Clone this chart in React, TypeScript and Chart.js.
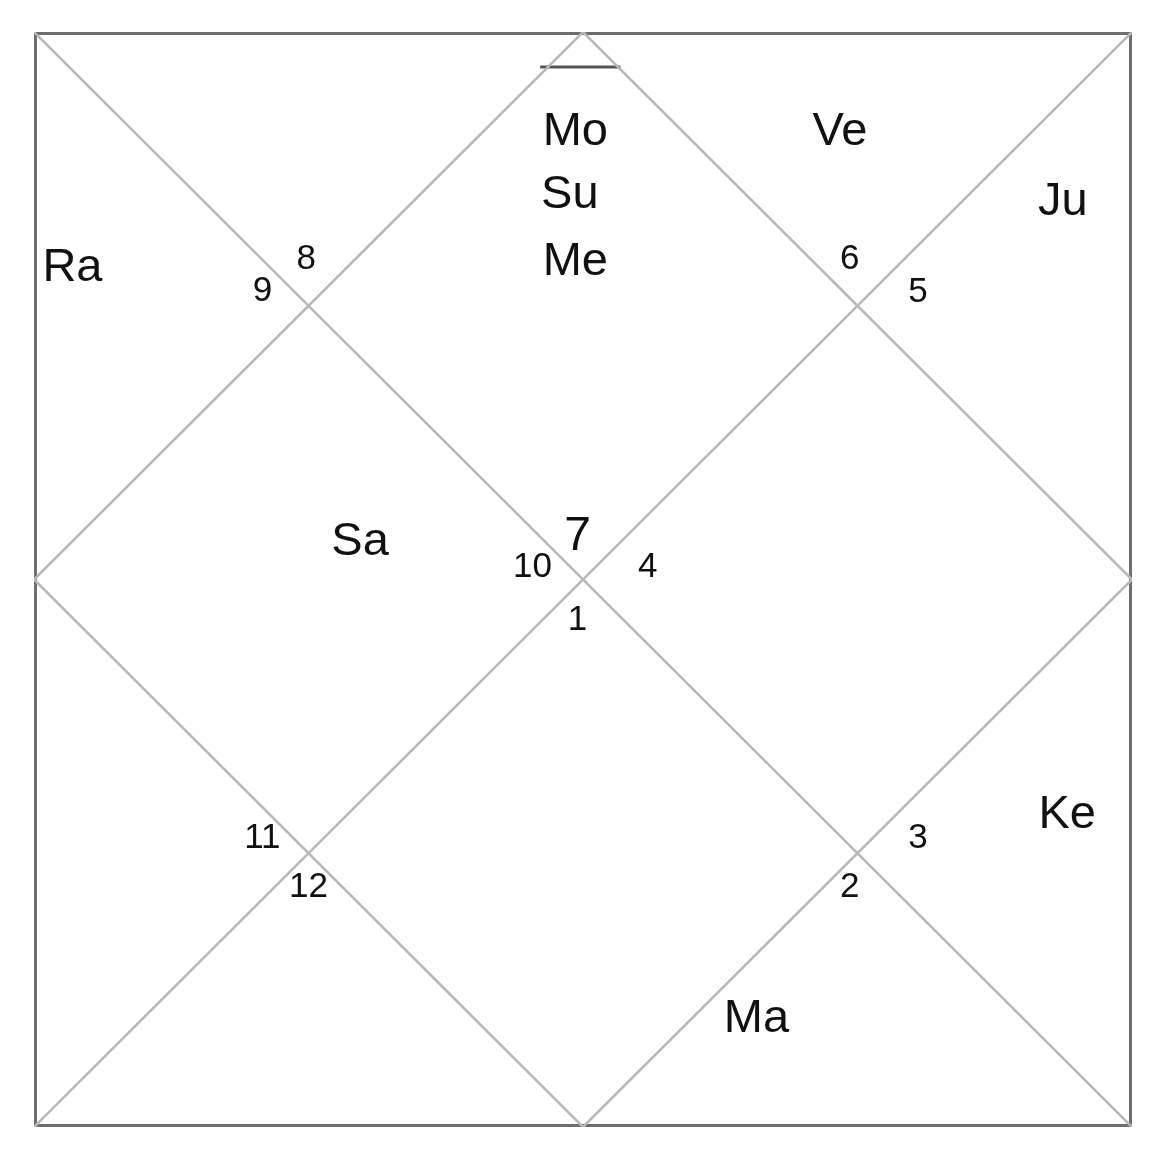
import React, { useEffect, useRef } from "react";
import { Chart, registerables } from "chart.js";
Chart.register(...registerables);

const borderSquare = [{x:0,y:0},{x:100,y:0},{x:100,y:100},{x:0,y:100},{x:0,y:0}];
const diag1 = [{x:0,y:100},{x:100,y:0}];
const diag2 = [{x:0,y:0},{x:100,y:100}];
const diamond = [{x:50,y:100},{x:100,y:50},{x:50,y:0},{x:0,y:50},{x:50,y:100}];
const topMark = [{x:46.1,y:96.8},{x:53.4,y:96.8}];

const planetNames = ["Mo","Su","Me","Ve","Ju","Ra","Sa","Ma","Ke"];
const planetX = [49.3,48.8,49.3,73.4,93.7,3.5,29.7,65.8,94.1];
const planetY = [90.9,85.1,79.0,90.9,84.5,78.4,53.4,9.9,28.5];

const houseNums = ["8","9","6","5","7","10","4","1","11","12","3","2"];
const houseX = [24.8,20.8,74.3,80.5,49.5,45.4,55.9,49.5,20.8,25.0,80.5,74.3];
const houseY = [79.2,76.3,79.2,76.2,53.9,51.1,51.1,46.3,26.4,21.9,26.4,21.9];

const textPlugin = {
  id: "kundliText",
  afterDatasetsDraw(chart: any) {
    const { ctx, scales } = chart;
    ctx.save();
    ctx.fillStyle = "#111";
    ctx.textAlign = "center";
    ctx.textBaseline = "middle";
    ctx.font = "47px 'Liberation Sans', Arial, sans-serif";
    planetNames.forEach((t, i) => {
      ctx.fillText(t, scales.x.getPixelForValue(planetX[i]), scales.y.getPixelForValue(planetY[i]));
    });
    houseNums.forEach((t, i) => {
      ctx.font = t === "7" ? "48px 'Liberation Sans', Arial, sans-serif" : "35px 'Liberation Sans', Arial, sans-serif";
      ctx.fillText(t, scales.x.getPixelForValue(houseX[i]), scales.y.getPixelForValue(houseY[i]));
    });
    ctx.restore();
  },
};

export default function App() {
  const ref = useRef<HTMLCanvasElement>(null);
  useEffect(() => {
    const line = (data: any, color: string, w: number) => ({
      data, borderColor: color, borderWidth: w, showLine: true, pointRadius: 0, fill: false, tension: 0,
    });
    const chart = new Chart(ref.current!, {
      type: "scatter",
      data: {
        datasets: [
          line(diag1, "#b8b8b8", 2.5),
          line(diag2, "#b8b8b8", 2.5),
          line(diamond, "#b8b8b8", 2.5),
          line(topMark, "#555", 3),
          line(borderSquare, "#6e6e6e", 6),
        ],
      },
      options: {
        animation: false,
        responsive: false,
        layout: { padding: { left: 26, top: 24, right: 24, bottom: 26 } },
        plugins: { legend: { display: false }, tooltip: { enabled: false } },
        scales: {
          x: { type: "linear", min: 0, max: 100, display: false },
          y: { type: "linear", min: 0, max: 100, display: false },
        },
      },
      plugins: [textPlugin],
    });
    return () => chart.destroy();
  }, []);
  return <canvas ref={ref} width={1148} height={1145} style={{ display: "block" }} />;
}
